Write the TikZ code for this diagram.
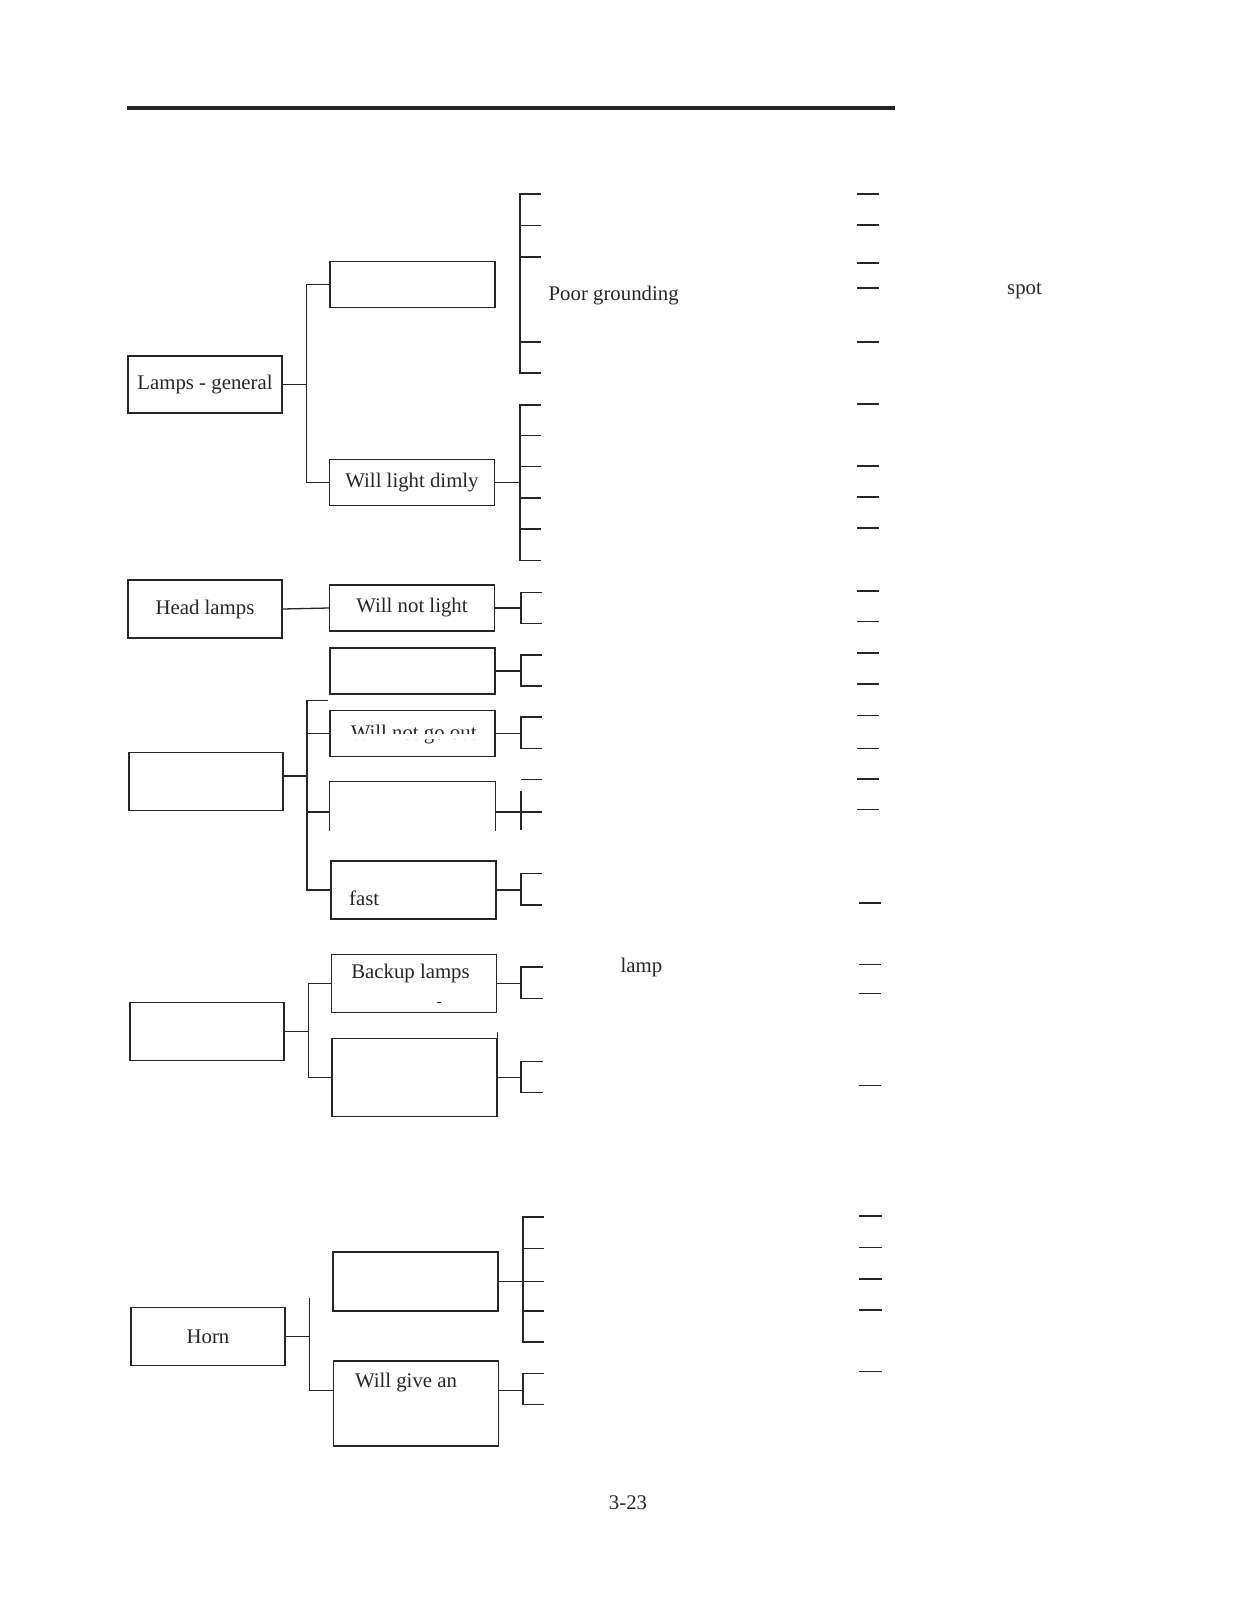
\documentclass[tikz,border=0pt]{standalone}
\usepackage{fontspec}
\setmainfont{Liberation Serif}
\usetikzlibrary{calc}

\begin{document}
\begin{tikzpicture}[x=0.5pt, y=-0.5pt, line width=0.65pt, color=black!85,
	font=\fontsize{10.4}{12}\selectfont,
	topbox/.style={draw, minimum width=77pt, minimum height=29pt, inner sep=0pt},
	subbox/.style={draw, minimum width=82.5pt, minimum height=23pt, inner sep=0pt},
	word/.style={inner sep=0pt}]

	\useasboundingbox (0,0) rectangle (1236,1607);

	% Heading rule
	\draw[line width=2pt] (127,107.5) -- (895,107.5);

	% Lamps - general
	\node[topbox, minimum height=28.5pt] (lg) at (205,384.5) {Lamps - general};
	\node[subbox] (lgnone) at (412.5,284.5) {};
	\node[subbox] (lgdim) at (412,482.7) {Will light dimly};
	\coordinate (lgtrunk) at (306.5,0);
	\coordinate (lgbar) at (520,0);
	\draw (lg.east) -- (lg.east -| lgtrunk);
	\draw (lgnone.west) -- (lgnone.west -| lgtrunk) -- (lgdim.west -| lgtrunk) -- (lgdim.west);
	\draw (lgdim.east) -- (lgdim.east -| lgbar);
	\draw (541,194) -| (520,373) -- (541,373) (520,225.5) -- (541,225.5) (520,257) -- (541,257) (520,342) -- (541,342);
	\draw (541,405) -| (520,560.5) -- (541,560.5) (520,435.5) -- (541,435.5) (520,466.5) -- (541,466.5) (520,498) -- (541,498) (520,529) -- (541,529);
	\node[word, anchor=base west] (poor) at (548,300) {Poor grounding};
	\node[word, anchor=base west] (spot) at (1006.5,294.5) {spot};

	% Head lamps
	\node[topbox] (hl) at (205,609) {Head lamps};
	\node[subbox] (hlnot) at (412,608) {Will not light};
	\draw (hl.east) -- (hlnot.west);

	% Lamps that will not go out, or flash
	\node[subbox] (hlblank) at (412.5,671) {};
	\node[subbox] (hlout) at (412.5,733.7) {};
	\begin{scope}
		\clip (330,700) rectangle (495,733) (330,738.5) rectangle (495,760);
		\node[word, anchor=base] (hlouttext) at (413.7,739) {Will not go out};
	\end{scope}
	\node[topbox] (sw) at (206,781.6) {};
	\node[subbox, draw=none, minimum height=30pt] (swopen) at (412.5,812) {};
	\draw ($(swopen.south west)+(0,-12)$) -- (swopen.north west) -- (swopen.north east) -- ($(swopen.south east)+(0,-12)$);
	\node[subbox, minimum height=29pt] (swfast) at (413.5,890) {};
	\node[word, anchor=base west] (fasttext) at (348.5,905) {fast};
	\coordinate (swtrunk) at (307,700.3);
	\coordinate (swstub) at (328,700.3);
	\coordinate (swin) at ([yshift=2.8pt]sw.east);
	\coordinate (swbar) at (521,0);
	\coordinate (swend) at (542,0);
	\draw (swstub) -- (swtrunk) -- (swfast.west -| swtrunk) -- (swfast.west);
	\draw (hlout.west) -- (hlout.west -| swtrunk);
	\draw (swin) -- (swin -| swtrunk);
	\draw (swopen.west) -- (swopen.west -| swtrunk);
	\draw (hlnot.east) -- (hlnot.east -| swbar);
	\draw (542,592.3) -| (521,623.3) -- (542,623.3);
	\draw (hlblank.east) -- (hlblank.east -| swbar);
	\draw (542,655) -| (521,686) -- (542,686);
	\draw (hlout.east) -- (hlout.east -| swbar);
	\draw (542,717) -| (521,748.7) -- (542,748.7);
	\draw (swopen.east) -- (swopen.east -| swend);
	\draw (521,779.7) -- (542,779.7) (521,791) -- (521,830);
	\draw (swfast.east) -- (swfast.east -| swbar);
	\draw (542,873.7) -| (521,905) -- (542,905);

	% Backup lamps
	\node[topbox] (bk) at (207,1031.5) {};
	\node[subbox, minimum height=29pt] (bkup) at (414,983.3) {};
	\node[word, anchor=base] (bkuptext) at (410.5,978.3) {Backup lamps};
	\draw[line width=0.5pt] (436.5,1002) -- (440.5,1002);
	\node[subbox, minimum height=39pt] (bklow) at (414.5,1077.2) {};
	\draw (bklow.north east) -- ++(0,-6);
	\coordinate (bktrunk) at (308.5,0);
	\coordinate (bkbar) at (521,0);
	\draw (bk.east) -- (bk.east -| bktrunk);
	\draw (bkup.west) -- (bkup.west -| bktrunk) -- (bklow.west -| bktrunk) -- (bklow.west);
	\draw (bkup.east) -- (bkup.east -| bkbar);
	\draw (543,967) -| (521,998.3) -- (543,998.3);
	\draw (bklow.east) -- (bklow.east -| bkbar);
	\draw (543,1061.3) -| (521,1092.3) -- (543,1092.3);
	\node[word, anchor=base west] (lamp) at (620,972.7) {lamp};

	% Horn
	\node[topbox] (hn) at (208,1336.5) {Horn};
	\node[subbox, minimum height=29.5pt] (hnone) at (415.5,1281.4) {};
	\node[subbox, minimum height=42.5pt] (hngive) at (416,1403.4) {};
	\node[word, anchor=base] (hngivetext) at (406,1387.3) {Will give an};
	\coordinate (hntop) at (309.5,1298.3);
	\coordinate (hngivein) at ([yshift=6.5pt]hngive.west);
	\coordinate (hngiveout) at ([yshift=6.5pt]hngive.east);
	\coordinate (hnbar) at (523,0);
	\coordinate (hnend) at (544,0);
	\draw (hn.east) -- (hn.east -| hntop);
	\draw (hntop) -- (hngivein -| hntop) -- (hngivein);
	\draw (hnone.east) -- (hnone.east -| hnend);
	\draw (544,1217) -| (523,1342) -- (544,1342) (523,1248.5) -- (544,1248.5) (523,1311) -- (544,1311);
	\draw (hngiveout) -- (hngiveout -| hnbar);
	\draw (544,1373.3) -| (523,1404.3) -- (544,1404.3);

	% Short rules of the right column
	\draw (857,194) -- (879,194) (857,225) -- (879,225) (857,263) -- (879,263) (857,288) -- (879,288)
		(857,342) -- (879,342) (857,404) -- (879,404) (857,466) -- (879,466) (857,497) -- (879,497)
		(857,528) -- (879,528) (857,591) -- (879,591) (857,621.5) -- (879,621.5) (857,653) -- (879,653)
		(857,684) -- (879,684) (857,715.5) -- (879,715.5) (857,748.5) -- (879,748.5) (857,779) -- (879,779)
		(857,809.5) -- (879,809.5) (859,903) -- (881,903) (859,964.5) -- (881,964.5) (859,993.5) -- (881,993.5)
		(859,1085.5) -- (881,1085.5) (859,1216) -- (882,1216) (859,1247.5) -- (882,1247.5) (859,1279) -- (882,1279)
		(859,1310) -- (882,1310) (859,1371.5) -- (882,1371.5);

	% Page number
	\node[word, anchor=base] (page) at (628,1509) {3-23};

\end{tikzpicture}
\end{document}
